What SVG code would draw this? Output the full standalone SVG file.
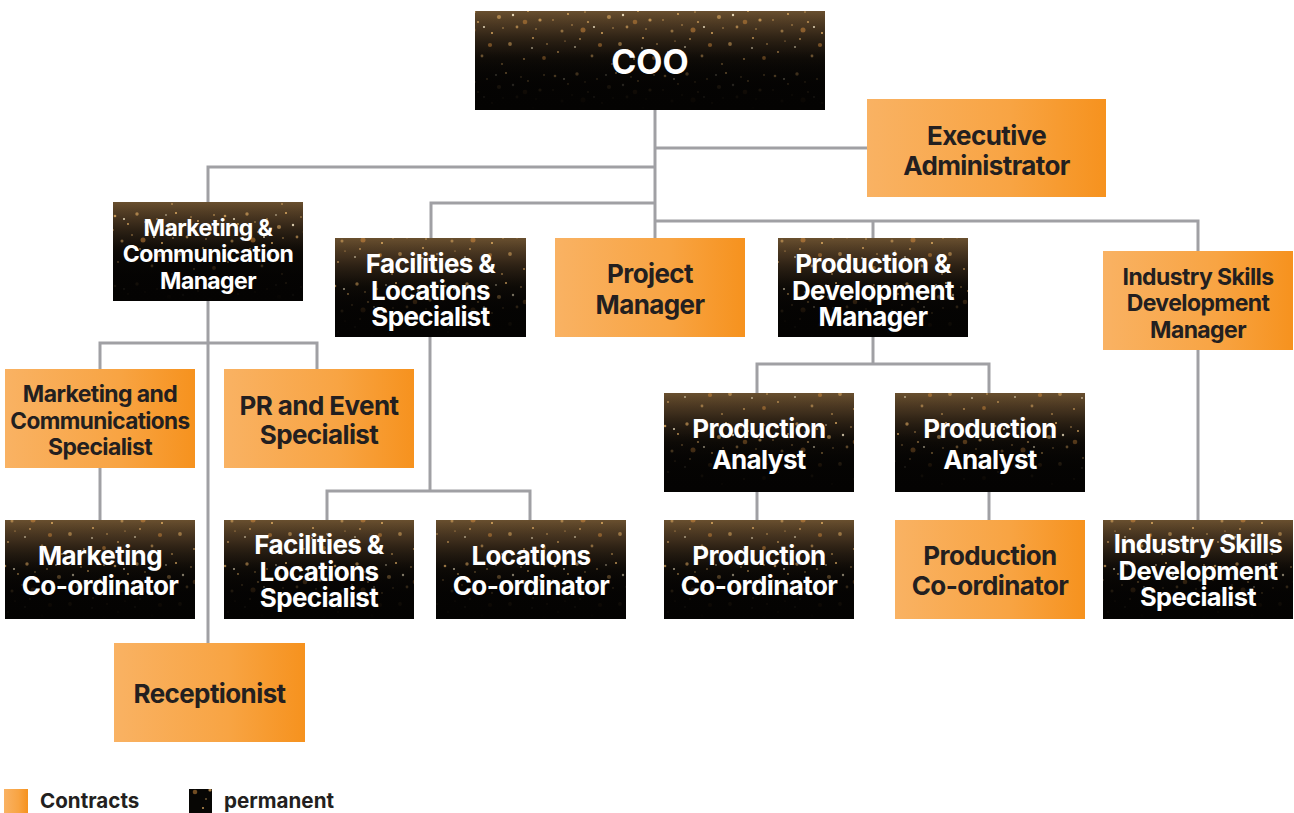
<svg xmlns="http://www.w3.org/2000/svg" width="1294" height="813" viewBox="0 0 1294 813">
<defs>
<linearGradient id="org" x1="0" y1="0" x2="1" y2="0"><stop offset="0" stop-color="#f9b263"/><stop offset="0.6" stop-color="#f8a443"/><stop offset="1" stop-color="#f6921e"/></linearGradient>
<linearGradient id="haze" x1="0" y1="0" x2="0" y2="1"><stop offset="0" stop-color="#7a5c36" stop-opacity="0.85"/><stop offset="0.2" stop-color="#5a4228" stop-opacity="0.7"/><stop offset="0.5" stop-color="#241a10" stop-opacity="0.35"/><stop offset="1" stop-color="#000" stop-opacity="0"/></linearGradient>
<linearGradient id="fade" x1="0" y1="0" x2="0" y2="1"><stop offset="0" stop-color="#040302" stop-opacity="0"/><stop offset="0.4" stop-color="#040302" stop-opacity="0.1"/><stop offset="0.75" stop-color="#040302" stop-opacity="0.85"/><stop offset="1" stop-color="#040302" stop-opacity="1"/></linearGradient>
<pattern id="speck" patternUnits="userSpaceOnUse" width="110" height="70">
<g fill="#e2ad62">
<circle cx="5" cy="6" r="1.3" opacity="0.85"/><circle cx="18" cy="14" r="0.9"/><circle cx="27" cy="4" r="1.7" opacity="0.65"/><circle cx="38" cy="22" r="1.1" opacity="0.75"/>
<circle cx="47" cy="9" r="0.8"/><circle cx="59" cy="17" r="2.1" opacity="0.6"/><circle cx="66" cy="3" r="1"/><circle cx="77" cy="27" r="1.4" opacity="0.65"/>
<circle cx="88" cy="11" r="0.9"/><circle cx="100" cy="20" r="1.6" opacity="0.75"/><circle cx="104" cy="5" r="0.8"/><circle cx="12" cy="31" r="1.5" opacity="0.55"/>
<circle cx="30" cy="39" r="0.9" opacity="0.75"/><circle cx="52" cy="33" r="1"/><circle cx="70" cy="44" r="1.9" opacity="0.55"/><circle cx="93" cy="38" r="1" opacity="0.85"/>
<circle cx="8" cy="52" r="0.9" opacity="0.75"/><circle cx="42" cy="56" r="1.4" opacity="0.55"/><circle cx="84" cy="59" r="0.9" opacity="0.75"/><circle cx="62" cy="64" r="0.8"/>
<circle cx="22" cy="25" r="0.7"/><circle cx="35" cy="12" r="0.7"/><circle cx="81" cy="7" r="0.7"/><circle cx="96" cy="29" r="0.7"/>
<circle cx="3" cy="20" r="0.7"/><circle cx="63" cy="28" r="0.7"/><circle cx="15" cy="41" r="0.6"/><circle cx="107" cy="44" r="0.7"/>
</g>
<g fill="#fff1cf">
<circle cx="14" cy="9" r="1" opacity="0.9"/><circle cx="44" cy="27" r="0.9"/><circle cx="73" cy="15" r="1.2" opacity="0.85"/><circle cx="92" cy="48" r="0.8"/><circle cx="25" cy="47" r="0.8"/><circle cx="56" cy="5" r="0.7"/>
</g>
<g fill="#c8843a">
<circle cx="33" cy="30" r="2.5" opacity="0.6"/><circle cx="85" cy="22" r="2.3" opacity="0.55"/><circle cx="50" cy="45" r="2.1" opacity="0.55"/><circle cx="104" cy="58" r="1.9" opacity="0.55"/>
</g>
</pattern>
<style>
.bk0{fill:#070604}.bk1{fill:url(#haze)}.bk2{fill:url(#speck)}.bk3{fill:url(#fade)}
.or{fill:url(#org)}
text{font-family:Inter,"Noto Sans","Liberation Sans",sans-serif;font-weight:700;font-size:26px;text-anchor:middle;letter-spacing:-0.6px}
.w{fill:#ffffff}.d{fill:#231f20}
.s23{font-size:23px}.s25{font-size:25.5px}
.lg{font-size:20.6px;text-anchor:start;letter-spacing:0;fill:#231f20}
.con{fill:none;stroke:#a0a0a4;stroke-width:3}
</style>
</defs>
<rect width="1294" height="813" fill="#ffffff"/>

<g id="connectors" class="con">
<path d="M655,110 V238"/>
<path d="M655,148 H867"/>
<path d="M655,167 H208 V202"/>
<path d="M655,203 H431 V238"/>
<path d="M655,221 H1198 V251"/>
<path d="M873,221 V238"/>
<path d="M208,301 V643"/>
<path d="M100,369 V343 H317 V369"/>
<path d="M100,468 V520"/>
<path d="M430,337 V491"/>
<path d="M327,520 V491 H530 V520"/>
<path d="M873,337 V364"/>
<path d="M757,393 V364 H989 V393"/>
<path d="M757,492 V520"/>
<path d="M989,492 V520"/>
<path d="M1198,350 V520"/>
</g>

<g id="coo">
<rect class="bk0" x="475" y="11" width="350" height="99"/><rect class="bk1" x="475" y="11" width="350" height="99"/><rect class="bk2" x="475" y="11" width="350" height="99"/><rect class="bk3" x="475" y="11" width="350" height="99"/>
<text class="w" x="650" y="74" style="font-size:34px;letter-spacing:0">COO</text>
</g>

<g id="executive-administrator">
<rect class="or" x="867" y="99" width="239" height="98"/>
<text class="d" x="986.5" y="144.5">Executive</text><text class="d" x="986.5" y="174.5">Administrator</text>
</g>

<g id="marketing-communication-manager">
<rect class="bk0" x="113" y="202" width="190" height="99"/><rect class="bk1" x="113" y="202" width="190" height="99"/><rect class="bk2" x="113" y="202" width="190" height="99"/><rect class="bk3" x="113" y="202" width="190" height="99"/>
<text class="w s23" x="208" y="235.5">Marketing &amp;</text><text class="w s23" x="208" y="261.5">Communication</text><text class="w s23" x="208" y="288.5">Manager</text>
</g>

<g id="facilities-locations-specialist">
<rect class="bk0" x="335" y="238" width="191" height="99"/><rect class="bk1" x="335" y="238" width="191" height="99"/><rect class="bk2" x="335" y="238" width="191" height="99"/><rect class="bk3" x="335" y="238" width="191" height="99"/>
<text class="w" x="430.5" y="272.5">Facilities &amp;</text><text class="w" x="430.5" y="299.5">Locations</text><text class="w" x="430.5" y="325.5">Specialist</text>
</g>

<g id="project-manager">
<rect class="or" x="555" y="238" width="190" height="99"/>
<text class="d" x="650" y="282.5">Project</text><text class="d" x="650" y="314">Manager</text>
</g>

<g id="production-development-manager">
<rect class="bk0" x="778" y="238" width="190" height="99"/><rect class="bk1" x="778" y="238" width="190" height="99"/><rect class="bk2" x="778" y="238" width="190" height="99"/><rect class="bk3" x="778" y="238" width="190" height="99"/>
<text class="w" x="873" y="272.5">Production &amp;</text><text class="w" x="873" y="299.5">Development</text><text class="w" x="873" y="325.5">Manager</text>
</g>

<g id="industry-skills-development-manager">
<rect class="or" x="1103" y="251" width="190" height="99"/>
<text class="d s23" x="1198" y="284.5">Industry Skills</text><text class="d s23" x="1198" y="310.5">Development</text><text class="d s23" x="1198" y="337.5">Manager</text>
</g>

<g id="marketing-communications-specialist">
<rect class="or" x="5" y="369" width="190" height="99"/>
<text class="d s23" x="100" y="401.5">Marketing and</text><text class="d s23" x="100" y="428.5" style="font-size:22.6px">Communications</text><text class="d s23" x="100" y="454.5">Specialist</text>
</g>

<g id="pr-event-specialist">
<rect class="or" x="224" y="369" width="190" height="99"/>
<text class="d" x="319" y="414.5">PR and Event</text><text class="d" x="319" y="443.5">Specialist</text>
</g>

<g id="production-analyst-1">
<rect class="bk0" x="664" y="393" width="190" height="99"/><rect class="bk1" x="664" y="393" width="190" height="99"/><rect class="bk2" x="664" y="393" width="190" height="99"/><rect class="bk3" x="664" y="393" width="190" height="99"/>
<text class="w" x="759" y="437.5">Production</text><text class="w" x="759" y="468.5">Analyst</text>
</g>

<g id="production-analyst-2">
<rect class="bk0" x="895" y="393" width="190" height="99"/><rect class="bk1" x="895" y="393" width="190" height="99"/><rect class="bk2" x="895" y="393" width="190" height="99"/><rect class="bk3" x="895" y="393" width="190" height="99"/>
<text class="w" x="990" y="437.5">Production</text><text class="w" x="990" y="468.5">Analyst</text>
</g>

<g id="marketing-coordinator">
<rect class="bk0" x="5" y="520" width="190" height="99"/><rect class="bk1" x="5" y="520" width="190" height="99"/><rect class="bk2" x="5" y="520" width="190" height="99"/><rect class="bk3" x="5" y="520" width="190" height="99"/>
<text class="w" x="100" y="564.5">Marketing</text><text class="w" x="100" y="594.5">Co-ordinator</text>
</g>

<g id="facilities-locations-specialist-2">
<rect class="bk0" x="224" y="520" width="190" height="99"/><rect class="bk1" x="224" y="520" width="190" height="99"/><rect class="bk2" x="224" y="520" width="190" height="99"/><rect class="bk3" x="224" y="520" width="190" height="99"/>
<text class="w" x="319" y="553.5">Facilities &amp;</text><text class="w" x="319" y="580.5">Locations</text><text class="w" x="319" y="606.5">Specialist</text>
</g>

<g id="locations-coordinator">
<rect class="bk0" x="436" y="520" width="190" height="99"/><rect class="bk1" x="436" y="520" width="190" height="99"/><rect class="bk2" x="436" y="520" width="190" height="99"/><rect class="bk3" x="436" y="520" width="190" height="99"/>
<text class="w" x="531" y="564.5">Locations</text><text class="w" x="531" y="594.5">Co-ordinator</text>
</g>

<g id="production-coordinator-1">
<rect class="bk0" x="664" y="520" width="190" height="99"/><rect class="bk1" x="664" y="520" width="190" height="99"/><rect class="bk2" x="664" y="520" width="190" height="99"/><rect class="bk3" x="664" y="520" width="190" height="99"/>
<text class="w" x="759" y="564.5">Production</text><text class="w" x="759" y="594.5">Co-ordinator</text>
</g>

<g id="production-coordinator-2">
<rect class="or" x="895" y="520" width="190" height="99"/>
<text class="d" x="990" y="564.5">Production</text><text class="d" x="990" y="594.5">Co-ordinator</text>
</g>

<g id="industry-skills-development-specialist">
<rect class="bk0" x="1103" y="520" width="190" height="99"/><rect class="bk1" x="1103" y="520" width="190" height="99"/><rect class="bk2" x="1103" y="520" width="190" height="99"/><rect class="bk3" x="1103" y="520" width="190" height="99"/>
<text class="w s25" x="1198" y="553">Industry Skills</text><text class="w s25" x="1198" y="580">Development</text><text class="w s25" x="1198" y="606">Specialist</text>
</g>

<g id="receptionist">
<rect class="or" x="114" y="643" width="191" height="99"/>
<text class="d" x="209.5" y="702.5">Receptionist</text>
</g>

<g id="legend">
<rect class="or" x="4" y="789" width="24" height="24"/>
<text class="lg" x="40" y="808">Contracts</text>
<rect class="bk0" x="189" y="789" width="23" height="24"/><rect class="bk2" x="189" y="789" width="23" height="24"/>
<text class="lg" x="224" y="808">permanent</text>
</g>
</svg>
